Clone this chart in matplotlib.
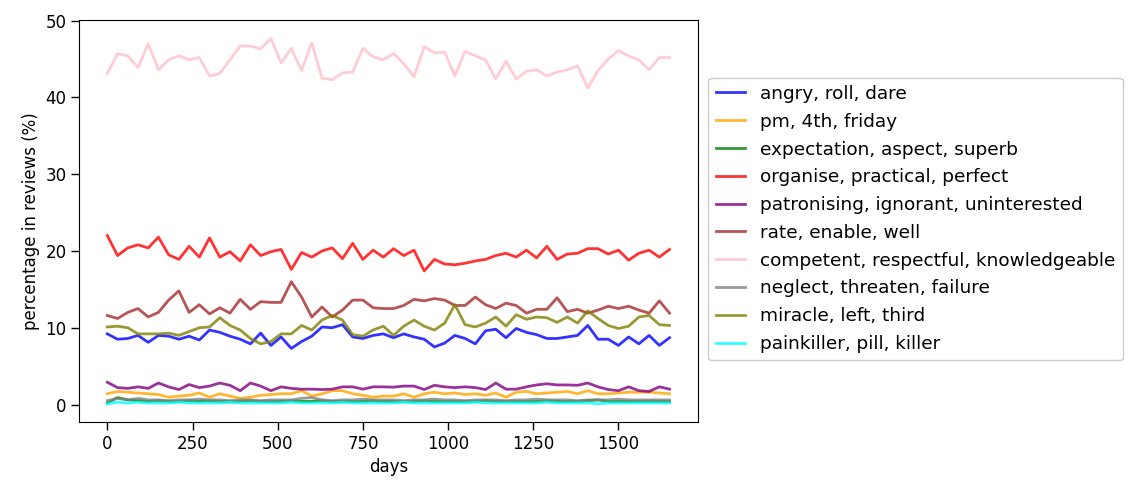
import numpy as np
import matplotlib
matplotlib.use("Agg")
import matplotlib.pyplot as plt

# Sampling days (one point every 30 days)
days = np.arange(0, 1651, 30)

labels = [
    "angry, roll, dare",
    "pm, 4th, friday",
    "expectation, aspect, superb",
    "organise, practical, perfect",
    "patronising, ignorant, uninterested",
    "rate, enable, well",
    "competent, respectful, knowledgeable",
    "neglect, threaten, failure",
    "miracle, left, third",
    "painkiller, pill, killer",
]
colors = ["blue", "orange", "green", "red", "purple", "brown", "pink", "gray", "olive", "cyan"]

angry = [9.2, 8.5, 8.6, 9.0, 8.1, 9.0, 8.9, 8.5, 8.9, 8.4,
         9.7, 9.4, 8.9, 8.5, 7.9, 9.3, 7.7, 8.8, 7.3, 8.2,
         8.9, 10.1, 10.0, 10.4, 8.8, 8.6, 9.0, 9.2, 8.7, 9.2,
         8.8, 8.5, 7.5, 8.0, 9.0, 8.6, 7.9, 9.6, 9.8, 8.7,
         9.9, 9.4, 9.1, 8.6, 8.6, 8.8, 9.0, 10.3, 8.5, 8.5,
         7.7, 8.8, 7.9, 9.0, 7.7, 8.7]
pm = [1.4, 1.7, 1.6, 1.5, 1.4, 1.3, 0.95, 1.1, 1.2, 1.5,
      0.95, 1.4, 1.1, 0.8, 0.95, 1.2, 1.3, 1.4, 1.4, 1.8,
      1.1, 1.4, 1.8, 1.8, 1.4, 1.2, 0.95, 1.1, 1.1, 1.4,
      0.95, 1.4, 1.6, 1.4, 1.5, 1.3, 1.4, 1.2, 1.5, 0.95,
      1.6, 1.7, 1.4, 1.5, 1.6, 1.7, 1.4, 1.8, 1.4, 1.4,
      1.5, 1.6, 1.6, 1.6, 1.5, 1.4]
expectation = [0.2, 0.9, 0.6, 0.5, 0.4, 0.5, 0.4, 0.4, 0.5, 0.4,
               0.5, 0.4, 0.4, 0.4, 0.5, 0.4, 0.4, 0.4, 0.5, 0.4,
               0.4, 0.5, 0.4, 0.4, 0.4, 0.4, 0.5, 0.4, 0.4, 0.4,
               0.4, 0.5, 0.4, 0.4, 0.4, 0.4, 0.4, 0.5, 0.4, 0.4,
               0.4, 0.4, 0.4, 0.5, 0.4, 0.4, 0.4, 0.5, 0.6, 0.4,
               0.4, 0.4, 0.4, 0.4, 0.4, 0.4]
organise = [22.0, 19.4, 20.4, 20.8, 20.4, 21.8, 19.5, 18.9, 20.6, 19.2,
            21.7, 19.2, 19.9, 18.7, 20.8, 19.4, 19.9, 20.2, 17.6, 19.8,
            19.2, 20.0, 20.4, 19.0, 21.0, 18.9, 20.1, 19.2, 20.3, 19.4,
            20.1, 17.4, 18.9, 18.3, 18.2, 18.4, 18.7, 18.9, 19.4, 19.7,
            19.2, 20.1, 19.1, 20.6, 18.9, 19.6, 19.7, 20.3, 20.3, 19.6,
            20.1, 18.8, 19.7, 20.1, 19.2, 20.2]
patronising = [2.9, 2.2, 2.1, 2.3, 2.1, 2.8, 2.3, 1.95, 2.6, 2.2,
               2.4, 2.8, 2.5, 1.8, 2.8, 2.4, 1.8, 2.3, 2.1, 2.0,
               2.0, 1.95, 2.0, 2.3, 2.3, 2.0, 2.3, 2.3, 2.26, 2.4,
               2.4, 1.95, 2.5, 2.3, 2.2, 2.3, 2.2, 1.95, 2.8, 2.0,
               2.0, 2.3, 2.55, 2.7, 2.55, 2.55, 2.5, 2.8, 2.3, 1.95,
               1.8, 2.3, 1.8, 1.7, 2.3, 2.0]
rate = [11.6, 11.2, 12.0, 12.5, 11.4, 12.0, 13.6, 14.8, 12.0, 13.0,
        11.8, 12.6, 11.9, 13.7, 12.4, 13.4, 13.3, 13.3, 16.0, 14.0,
        11.4, 12.7, 11.4, 12.3, 13.6, 13.6, 12.6, 12.5, 12.5, 12.9,
        13.7, 13.5, 13.8, 13.6, 12.9, 12.9, 14.0, 13.0, 12.5, 13.2,
        12.9, 11.9, 12.4, 12.4, 13.9, 12.1, 12.4, 11.9, 12.3, 12.8,
        12.5, 12.8, 12.3, 11.9, 13.5, 11.9]
competent = [43.1, 45.7, 45.4, 43.9, 47.0, 43.6, 44.9, 45.4, 44.9, 45.2,
             42.8, 43.1, 44.9, 46.7, 46.7, 46.3, 47.7, 44.5, 46.4, 43.5,
             47.1, 42.5, 42.3, 43.2, 43.3, 46.4, 45.3, 44.9, 45.7, 44.4,
             42.7, 46.6, 45.8, 45.9, 42.8, 46.0, 45.4, 44.9, 42.4, 44.7,
             42.4, 43.4, 43.6, 42.8, 43.3, 43.6, 44.1, 41.2, 43.5, 45.0,
             46.1, 45.4, 44.9, 43.6, 45.2, 45.2]
neglect = [0.5, 0.8, 0.6, 0.8, 0.6, 0.6, 0.5, 0.6, 0.6, 0.7,
           0.6, 0.6, 0.5, 0.6, 0.6, 0.5, 0.6, 0.6, 0.6, 0.8,
           0.9, 0.6, 0.5, 0.6, 0.6, 0.7, 0.6, 0.6, 0.6, 0.5,
           0.6, 0.6, 0.7, 0.6, 0.6, 0.5, 0.6, 0.6, 0.6, 0.5,
           0.6, 0.6, 0.7, 0.6, 0.6, 0.6, 0.5, 0.6, 0.6, 0.6,
           0.7, 0.6, 0.6, 0.6, 0.6, 0.6]
miracle = [10.1, 10.2, 10.0, 9.2, 9.2, 9.2, 9.3, 9.0, 9.5, 10.0,
           10.1, 11.3, 10.3, 9.7, 8.6, 7.9, 8.2, 9.2, 9.2, 10.3,
           9.7, 11.0, 11.6, 11.0, 9.1, 8.9, 9.7, 10.2, 9.0, 10.2,
           11.0, 10.2, 9.7, 10.6, 13.0, 10.4, 10.1, 10.6, 11.4, 10.2,
           11.7, 11.1, 11.4, 11.3, 10.7, 11.4, 10.6, 12.2, 11.2, 10.3,
           9.9, 10.2, 11.4, 11.6, 10.4, 10.3]
painkiller = [0.1, 0.3, 0.2, 0.3, 0.2, 0.2, 0.2, 0.3, 0.2, 0.2,
              0.2, 0.2, 0.3, 0.2, 0.2, 0.2, 0.2, 0.2, 0.3, 0.2,
              0.2, 0.2, 0.2, 0.3, 0.2, 0.2, 0.2, 0.2, 0.2, 0.3,
              0.2, 0.2, 0.2, 0.2, 0.2, 0.2, 0.3, 0.2, 0.2, 0.2,
              0.2, 0.2, 0.2, 0.3, 0.2, 0.2, 0.2, 0.2, 0.1, 0.2,
              0.2, 0.2, 0.2, 0.2, 0.2, 0.2]

series = [angry, pm, expectation, organise, patronising,
          rate, competent, neglect, miracle, painkiller]

plt.rcParams["font.family"] = "DejaVu Sans"
plt.rcParams["font.size"] = 12

fig = plt.figure(figsize=(11.3, 4.8), dpi=100)
ax = fig.add_axes([0.0701, 0.1208, 0.5473, 0.8375])

for values, color, label in zip(series, colors, labels):
    ax.plot(days, values, color=color, alpha=0.8, linewidth=2.0, label=label)

ax.set_xticks([0, 250, 500, 750, 1000, 1250, 1500])
ax.set_yticks([0, 10, 20, 30, 40, 50])
ax.tick_params(length=5.5, width=1.0, labelsize=12)
ax.set_xlabel("days", fontsize=12)
ax.set_ylabel("percentage in reviews (%)", fontsize=12)

ax.legend(loc="center left", bbox_to_anchor=(1.017, 0.505), borderaxespad=0.0,
          fontsize=13.3, handlelength=1.6, labelspacing=0.53,
          framealpha=1.0, edgecolor="#cccccc")

fig.savefig("out.png", dpi=100)
